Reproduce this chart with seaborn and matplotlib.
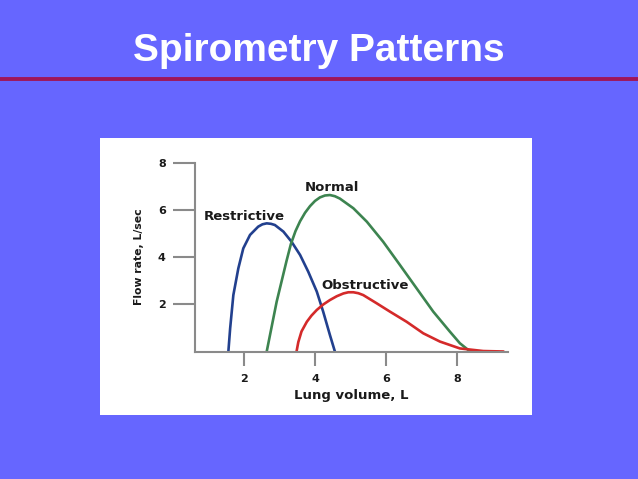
import matplotlib
matplotlib.use("Agg")
import matplotlib.pyplot as plt
import seaborn as sns
import pandas as pd

# curve points (lung volume L, flow rate L/sec)
restrictive_x = [1.56, 1.61, 1.70, 1.84, 1.98, 2.17, 2.40, 2.52, 2.64, 2.76, 2.87, 3.11, 3.34, 3.58, 3.81, 4.05, 4.23, 4.42, 4.56]
restrictive_y = [0.0, 0.98, 2.39, 3.52, 4.37, 4.94, 5.29, 5.39, 5.43, 5.41, 5.36, 5.08, 4.65, 4.09, 3.38, 2.54, 1.69, 0.70, 0.0]

normal_x = [2.64, 2.92, 3.20, 3.32, 3.45, 3.58, 3.72, 3.86, 4.00, 4.14, 4.28, 4.42, 4.56, 4.70, 5.08, 5.46, 5.92, 6.39, 6.86, 7.33, 7.80, 8.08, 8.37]
normal_y = [0.0, 2.11, 3.85, 4.55, 5.10, 5.52, 5.88, 6.16, 6.38, 6.53, 6.61, 6.63, 6.58, 6.48, 6.07, 5.50, 4.65, 3.67, 2.68, 1.69, 0.84, 0.35, 0.0]

obstructive_x = [3.48, 3.53, 3.62, 3.77, 3.90, 4.05, 4.23, 4.42, 4.61, 4.80, 4.94, 5.08, 5.22, 5.36, 5.74, 6.11, 6.58, 7.05, 7.52, 8.08, 8.74, 9.31]
obstructive_y = [0.0, 0.40, 0.85, 1.26, 1.52, 1.76, 1.99, 2.18, 2.34, 2.46, 2.51, 2.51, 2.47, 2.39, 2.04, 1.69, 1.26, 0.77, 0.42, 0.13, 0.02, 0.0]

x_ticks = [2, 4, 6, 8]
y_ticks = [2, 4, 6, 8]

curves = {
    "Restrictive": (restrictive_x, restrictive_y, "#22408e", (2.01, 5.74)),
    "Normal": (normal_x, normal_y, "#3d8450", (4.47, 6.95)),
    "Obstructive": (obstructive_x, obstructive_y, "#d42a2a", (5.42, 2.80)),
}

sns.set_style("white")
plt.rcParams["font.family"] = ["DejaVu Sans"]

fig = plt.figure(figsize=(6.38, 4.79), dpi=100)
fig.patch.set_facecolor("#6666ff")

# slide title and the red rule under it
fig.text(0.5, 0.8727, "Spirometry Patterns", ha="center", va="baseline",
         color="white", fontsize=28, fontweight="bold", family="Liberation Sans")
fig.add_artist(plt.Line2D([0, 1], [1 - 79.3 / 479] * 2, color="#a0165a", lw=2.8))

# white panel behind the chart
fig.add_artist(plt.Rectangle((100 / 638, 1 - 415 / 479), 432 / 638, 277.5 / 479,
                             facecolor="white", edgecolor="none", zorder=-5))

ax = fig.add_axes([195 / 638, 1 - 351.5 / 479, 313.5 / 638, 188.8 / 479])
ax.set_facecolor("none")
ax.set_zorder(2)

for name, (xs, ys, col, pos) in curves.items():
    df = pd.DataFrame({"vol": xs, "flow": ys})
    sns.lineplot(data=df, x="vol", y="flow", sort=False, color=col, lw=1.9, ax=ax, clip_on=False)
    ax.text(pos[0], pos[1], name, ha="center", va="center", fontsize=9.5,
            fontweight="bold", color="#1a1a1a")

ax.set_xlim(0.62, 9.45)
ax.set_ylim(0, 8)
ax.set_xticks(x_ticks)
ax.set_yticks(y_ticks)
ax.tick_params(axis="x", direction="out", length=10, width=1.5, color="#8a8a8a",
               labelsize=8, pad=6, labelcolor="#1a1a1a", bottom=True)
ax.tick_params(axis="y", direction="out", length=16, width=1.5, color="#8a8a8a",
               labelsize=8, pad=5, labelcolor="#1a1a1a", left=True)
for lab in ax.get_xticklabels() + ax.get_yticklabels():
    lab.set_fontweight("bold")

for side in ["top", "right"]:
    ax.spines[side].set_visible(False)
for side in ["left", "bottom"]:
    ax.spines[side].set_color("#8a8a8a")
    ax.spines[side].set_linewidth(1.5)

ax.set_xlabel("Lung volume, L", fontsize=9.5, fontweight="bold", color="#1a1a1a", labelpad=4)
ax.set_ylabel("Flow rate, L/sec", fontsize=7.8, fontweight="bold", color="#1a1a1a", labelpad=10)

fig.savefig("out.png", dpi=100, facecolor=fig.get_facecolor())
